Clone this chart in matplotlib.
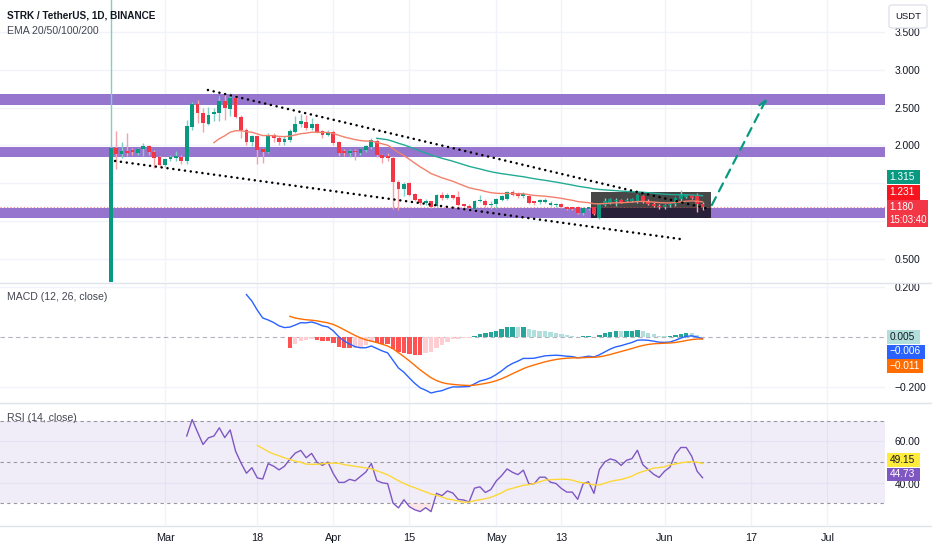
import matplotlib.pyplot as plt
import numpy as np
from matplotlib.patches import Rectangle, FancyBboxPatch

plt.rcParams['font.family'] = ['Liberation Sans', 'DejaVu Sans']

# ---- daily candles, STRK/USDT, starting 2024-02-20 (index 0) ----
opens = [0.10, 1.97, 1.89, 1.93, 1.94, 1.90, 1.95, 1.99, 1.92, 1.85,
         1.74, 1.82, 1.83, 1.85, 1.79, 2.25, 2.55, 2.43, 2.29, 2.42,
         2.43, 2.59, 2.48, 2.63, 2.38, 2.21, 2.04, 2.12, 1.95, 1.92,
         2.14, 2.10, 2.05, 2.07, 2.18, 2.28, 2.31, 2.23, 2.28, 2.19,
         2.14, 2.18, 2.04, 1.93, 1.90, 1.93, 1.90, 1.94, 1.98, 2.06,
         1.87, 1.86, 1.84, 1.52, 1.42, 1.50, 1.36, 1.29, 1.24, 1.26,
         1.20, 1.35, 1.31, 1.34, 1.32, 1.22, 1.20, 1.16, 1.26, 1.27,
         1.21, 1.23, 1.28, 1.29, 1.38, 1.37, 1.33, 1.33, 1.26, 1.25,
         1.25, 1.21, 1.21, 1.22, 1.19, 1.18, 1.19, 1.10, 1.16, 1.18,
         1.04, 1.21, 1.24, 1.26, 1.28, 1.26, 1.27, 1.26, 1.33, 1.27,
         1.23, 1.20, 1.18, 1.21, 1.22, 1.29, 1.32, 1.34, 1.35, 1.23]
highs = [4.50, 2.19, 2.04, 2.17, 1.97, 1.97, 2.03, 2.01, 1.94, 1.86,
         1.84, 1.88, 1.93, 1.87, 2.34, 2.58, 2.60, 2.50, 2.51, 2.50,
         2.65, 2.68, 2.70, 2.68, 2.40, 2.23, 2.14, 2.14, 1.97, 2.16,
         2.17, 2.12, 2.13, 2.22, 2.39, 2.42, 2.40, 2.36, 2.30, 2.20,
         2.20, 2.20, 2.06, 1.96, 1.96, 1.96, 1.97, 2.01, 2.10, 2.08,
         1.89, 1.90, 1.86, 1.54, 1.51, 1.52, 1.37, 1.30, 1.29, 1.27,
         1.36, 1.38, 1.37, 1.35, 1.40, 1.23, 1.22, 1.28, 1.35, 1.29,
         1.26, 1.31, 1.35, 1.40, 1.41, 1.39, 1.39, 1.35, 1.27, 1.29,
         1.30, 1.26, 1.24, 1.24, 1.20, 1.19, 1.20, 1.18, 1.19, 1.19,
         1.24, 1.30, 1.31, 1.30, 1.29, 1.31, 1.30, 1.36, 1.35, 1.29,
         1.25, 1.22, 1.22, 1.24, 1.32, 1.41, 1.36, 1.35, 1.37, 1.25]
lows = [0.05, 1.69, 1.83, 1.86, 1.88, 1.88, 1.86, 1.88, 1.70, 1.72,
        1.72, 1.79, 1.80, 1.76, 1.75, 2.21, 2.30, 2.18, 2.27, 2.32,
        2.33, 2.34, 2.39, 2.36, 2.10, 2.00, 1.99, 1.76, 1.77, 1.90,
        2.04, 2.00, 2.00, 2.05, 2.16, 2.24, 2.21, 2.20, 2.16, 2.10,
        2.12, 2.01, 1.86, 1.86, 1.85, 1.81, 1.88, 1.92, 1.96, 1.85,
        1.77, 1.80, 1.16, 1.15, 1.33, 1.33, 1.26, 1.21, 1.21, 1.17,
        1.18, 1.28, 1.29, 1.29, 1.20, 1.16, 1.15, 1.15, 1.25, 1.19,
        1.16, 1.17, 1.26, 1.28, 1.33, 1.31, 1.31, 1.22, 1.21, 1.23,
        1.24, 1.20, 1.19, 1.17, 1.15, 1.15, 1.09, 1.08, 1.14, 1.08,
        1.02, 1.20, 1.22, 1.20, 1.24, 1.25, 1.25, 1.24, 1.24, 1.21,
        1.18, 1.16, 1.16, 1.19, 1.20, 1.27, 1.30, 1.29, 1.12, 1.15]
closes = [1.97, 1.89, 1.93, 1.90, 1.91, 1.95, 1.99, 1.92, 1.84, 1.74,
          1.82, 1.85, 1.86, 1.79, 2.26, 2.55, 2.43, 2.30, 2.41, 2.44,
          2.59, 2.49, 2.63, 2.38, 2.21, 2.04, 2.12, 1.94, 1.92, 2.14,
          2.10, 2.04, 2.09, 2.19, 2.28, 2.32, 2.23, 2.29, 2.18, 2.14,
          2.18, 2.03, 1.90, 1.90, 1.93, 1.91, 1.95, 1.99, 2.07, 1.87,
          1.84, 1.83, 1.52, 1.42, 1.49, 1.35, 1.28, 1.24, 1.27, 1.19,
          1.34, 1.30, 1.34, 1.31, 1.21, 1.20, 1.17, 1.27, 1.28, 1.21,
          1.23, 1.29, 1.33, 1.38, 1.35, 1.33, 1.36, 1.24, 1.24, 1.28,
          1.28, 1.24, 1.23, 1.19, 1.16, 1.16, 1.10, 1.17, 1.18, 1.09,
          1.22, 1.27, 1.29, 1.28, 1.25, 1.28, 1.29, 1.34, 1.26, 1.23,
          1.20, 1.18, 1.21, 1.23, 1.30, 1.34, 1.34, 1.30, 1.22, 1.18]

tick_pos = [10, 27, 41, 55, 71, 83, 102, 118, 132]
tick_labels = ['Mar', '18', 'Apr', '15', 'May', '13', 'Jun', '17', 'Jul']
price_ticks = [0.5, 1.0, 1.5, 2.0, 2.5, 3.0, 3.5]
price_tick_labels = ['0.500', '', '', '2.000', '2.500', '3.000', '3.500']
rsi_ticks = [40, 60]
rsi_tick_labels = ['40.00', '60.00']

# drawings (day index, price)
zones = [(2.53, 2.68), (1.85, 1.98), (1.04, 1.17)]
upper_trend = ([17.9, 110.0], [2.735, 1.163])
lower_trend = ([0.8, 104.8], [1.795, 0.762])
arrow_from = (110.7, 1.21)
arrow_to = (120.8, 2.62)
box_x = (88.5, 110.6)
box_y = (1.04, 1.38)
last_price = 1.18

price_tags = ['1.315', '1.231', '1.180', '15:03:40']
macd_tags = ['0.005', '\u22120.006', '\u22120.011']
rsi_tags = ['49.15', '44.73']

GREEN = '#089981'
RED = '#f23645'
TXT = '#131722'
GRID = '#f0f3fa'


def ema(vals, n):
    v = np.asarray(vals, float)
    out = np.full(len(v), np.nan)
    ok = np.where(~np.isnan(v))[0]
    s = ok[0]
    out[s + n - 1] = v[s:s + n].mean()
    a = 2 / (n + 1)
    for k in range(s + n, len(v)):
        out[k] = a * v[k] + (1 - a) * out[k - 1]
    return out


def rma(vals, n, s):
    out = np.full(len(vals), np.nan)
    out[s + n - 1] = np.mean(vals[s:s + n])
    for k in range(s + n, len(vals)):
        out[k] = (vals[k] + (n - 1) * out[k - 1]) / n
    return out


c = np.array(closes)
days = np.arange(len(c))
ema20 = ema(c, 20)
ema50 = ema(c, 50)
macd = ema(c, 12) - ema(c, 26)
signal = ema(macd, 9)
hist = macd - signal

ch = np.diff(c, prepend=np.nan)
up = rma(np.where(ch > 0, ch, 0.0), 14, 1)
dn = rma(np.where(ch < 0, -ch, 0.0), 14, 1)
rsi = 100 - 100 / (1 + up / dn)
rsi_ma = np.full(len(c), np.nan)
for k in range(27, len(c)):
    rsi_ma[k] = rsi[k - 13:k + 1].mean()

W, H = 932, 550
fig = plt.figure(figsize=(W / 100, H / 100), dpi=100)


def px_rect(x0, y0, x1, y1):
    return [x0 / W, 1 - y1 / H, (x1 - x0) / W, (y1 - y0) / H]


ax = fig.add_axes(px_rect(0, 0, 885, 282))
ax2 = fig.add_axes(px_rect(0, 283, 885, 402), sharex=ax)
ax3 = fig.add_axes(px_rect(0, 403, 885, 525), sharex=ax)

for a in (ax, ax2, ax3):
    for s in a.spines.values():
        s.set_visible(False)
    a.yaxis.tick_right()
    a.tick_params(axis='y', length=0, pad=7, labelsize=7.4, labelcolor=TXT)
    a.tick_params(axis='x', length=0)
    a.grid(True, color=GRID, lw=1, zorder=0)
    a.set_axisbelow(True)

ax.set_xlim(-20.39, 142.6)
ax.set_xticks(tick_pos)
ax.set_xticklabels(tick_labels)
for a in (ax, ax2):
    a.tick_params(axis='x', labelbottom=False)
ax3.tick_params(axis='x', labelsize=7.8, labelcolor=TXT, pad=6)

# ---- price pane ----
ax.set_ylim(0.192, 3.927)
ax.set_yticks(price_ticks)
ax.set_yticklabels(price_tick_labels)

for lo, hi in zones:
    ax.axhspan(lo, hi, color='#9575cd', zorder=1, lw=0)
ax.add_patch(Rectangle((box_x[0], box_y[0]), box_x[1] - box_x[0], box_y[1] - box_y[0],
                       color='black', alpha=0.72, lw=0, zorder=2))
ax.axhline(last_price, color=RED, lw=0.8, ls=(0, (1, 2)), alpha=0.6, zorder=2)

o = np.array(opens); h = np.array(highs); l = np.array(lows)
is_up = c >= o
body_col = np.where(is_up, GREEN, RED)
wick_col = np.where(is_up, '#7fcfc3', '#f7a1a8')
ax.vlines(days, l, h, colors=wick_col, lw=1, zorder=3)
ax.bar(days, np.maximum(np.abs(c - o), 0.008), bottom=np.minimum(o, c), width=0.7,
       color=body_col, lw=0, zorder=4)

ax.plot(days, ema20, color='#f4806c', lw=1, zorder=5)
ax.plot(days, ema50, color='#22ab94', lw=1, zorder=5)

for xs, ys in (upper_trend, lower_trend):
    ax.plot(xs, ys, color='black', lw=1.8, ls=(0, (0.05, 2.3)),
            dash_capstyle='round', zorder=6)
ax.annotate('', xy=arrow_to, xytext=arrow_from,
            arrowprops=dict(arrowstyle='->', color=GREEN, lw=1.6,
                            linestyle=(0, (4, 3)), mutation_scale=12,
                            shrinkA=0, shrinkB=0), zorder=6)

# ---- MACD pane ----
ax2.set_ylim(-0.26, 0.216)
ax2.set_yticks([-0.2, 0.2])
ax2.set_yticklabels(['\u22120.200', '0.200'])
ax2.axhline(0, color='#b2b5be', lw=0.8, ls=(0, (4, 3)), zorder=1)
hcol = []
for k in range(len(hist)):
    prev = hist[k - 1] if k > 0 and not np.isnan(hist[k - 1]) else np.nan
    grow = np.isnan(prev) or hist[k] > prev
    if hist[k] >= 0:
        hcol.append('#26a69a' if grow else '#b2dfdb')
    else:
        hcol.append('#ffcdd2' if (not np.isnan(prev) and hist[k] > prev) else '#ff5252')
ax2.bar(days, np.nan_to_num(hist), width=0.8, color=hcol, lw=0, zorder=2)
ax2.plot(days, macd, color='#2962ff', lw=1, zorder=3)
ax2.plot(days, signal, color='#ff6d00', lw=1, zorder=3)

# ---- RSI pane ----
ax3.set_ylim(19.5, 78.6)
ax3.set_yticks(rsi_ticks)
ax3.set_yticklabels(['', rsi_tick_labels[1]])
# 40.00 sits just under the 44.73 tag, nudged a hair lower so they don't collide
ax3.annotate(rsi_tick_labels[0], xy=(1, rsi_ticks[0]), xycoords=('axes fraction', 'data'),
             xytext=(7, -2), textcoords='offset points', ha='left', va='center',
             fontsize=7.4, color=TXT, annotation_clip=False)
ax3.axhspan(30, 70, color='#7e57c2', alpha=0.1, lw=0, zorder=1)
for lv in (30, 50, 70):
    ax3.axhline(lv, color='#9598a1', lw=0.8, ls=(0, (3, 3)), zorder=2)
ax3.fill_between(days, rsi, 30, where=rsi < 30, color=RED, alpha=0.12, lw=0, zorder=2)
ax3.plot(days, rsi, color='#7e57c2', lw=1, zorder=3)
ax3.plot(days, rsi_ma, color='#fdd835', lw=1, zorder=3)

# ---- pane separators ----
for yy in (282.5, 402.5, 525.5):
    fig.add_artist(plt.Line2D([0, 1], [1 - yy / H] * 2, color='#e0e3eb', lw=1))


# ---- headers ----
def ftext(x, y, s, **kw):
    fig.text(x / W, 1 - y / H, s, va='center', **kw)


ftext(7, 15, 'STRK / TetherUS, 1D, BINANCE', fontsize=7.2, color=TXT, weight='bold')
ftext(7, 31, 'EMA 20/50/100/200', fontsize=7.6, color='#434651')
ftext(7, 297, 'MACD (12, 26, close)', fontsize=7.6, color='#434651')
ftext(7, 418, 'RSI (14, close)', fontsize=7.6, color='#434651')

fig.add_artist(FancyBboxPatch((889 / W, 1 - 28 / H), 38 / W, 23 / H,
                              boxstyle='round,pad=0,rounding_size=0.004',
                              transform=fig.transFigure, fc='white', ec='#e0e3eb', lw=1))
ftext(908, 16.5, 'USDT', fontsize=6.8, color=TXT, ha='center')


def tag(y0, y1, x1, lines, bg, fg, size=7.3):
    fig.add_artist(Rectangle((887 / W, 1 - y1 / H), (x1 - 887) / W, (y1 - y0) / H,
                             transform=fig.transFigure, color=bg, lw=0))
    step = (y1 - y0) / len(lines)
    for k, s in enumerate(lines):
        ftext(889.5, y0 + step * (k + 0.5), s, fontsize=size, color=fg)


tag(170, 184, 920, [price_tags[0]], GREEN, 'white')
tag(184.5, 199.5, 920, [price_tags[1]], '#f7141e', 'white')
tag(200, 227, 928, price_tags[2:], RED, 'white', 7.0)
tag(330, 344, 920, [macd_tags[0]], '#b2dfdb', TXT)
tag(344.5, 358.5, 925, [macd_tags[1]], '#2962ff', 'white')
tag(359, 373, 923, [macd_tags[2]], '#ff6d00', 'white')
tag(453, 467, 920, [rsi_tags[0]], '#ffeb3b', TXT)
tag(467.5, 481, 920, [rsi_tags[1]], '#7e57c2', 'white')

fig.savefig('out.png', dpi=100, facecolor='white')
